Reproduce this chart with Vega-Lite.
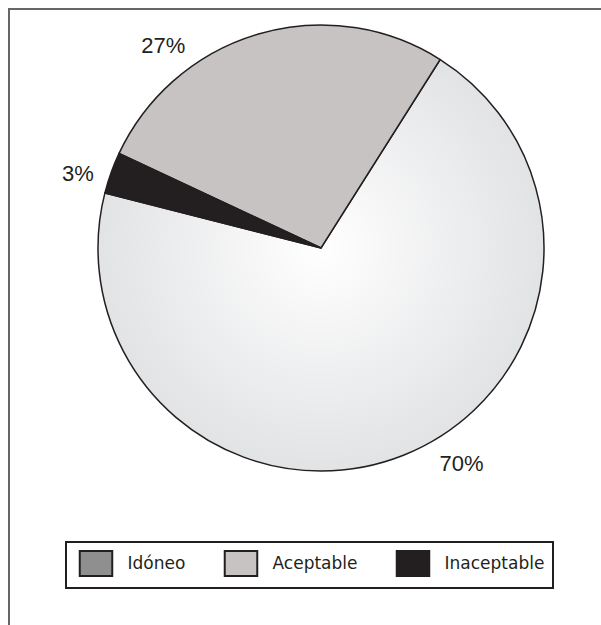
{
  "$schema": "https://vega.github.io/schema/vega-lite/v6.json",
  "width": 620,
  "height": 640,
  "autosize": {"type": "none"},
  "padding": {"left": 9, "top": 9, "right": -28, "bottom": -24},
  "background": "white",
  "config": {"legend": {"strokeWidth": 2}},
  "data": {"values": [
    {"cat": "Idóneo", "pct": 70, "label": "70%"},
    {"cat": "Aceptable", "pct": 27, "label": "27%"},
    {"cat": "Inaceptable", "pct": 3, "label": "3%"}
  ]},
  "transform": [
    {"stack": "pct", "groupby": [], "sort": [{"field": "cat", "order": "ascending"}], "as": ["s0", "s1"]}
  ],
  "layer": [
    {
      "data": {"values": [{"frame": 1}]},
      "mark": {"type": "rect", "fill": "transparent", "stroke": "#666666", "strokeWidth": 2},
      "encoding": {"x": {"value": 0}, "x2": {"value": "width"}, "y": {"value": 0}, "y2": {"value": "height"}}
    },
    {
      "mark": {"type": "arc", "outerRadius": 223, "xOffset": 2, "yOffset": -81, "stroke": "#231f20", "strokeWidth": 1.5},
      "encoding": {
        "theta": {"field": "s0", "type": "quantitative", "scale": {"domain": [0, 100], "range": [5.1505, 11.4337]}},
        "theta2": {"field": "s1"},
        "color": {
          "field": "cat", "type": "nominal",
          "condition": {"test": "datum.cat === 'Idóneo'", "value": {"gradient": "radial", "x1": 0.5, "y1": 0.46, "r1": 0, "x2": 0.5, "y2": 0.46, "r2": 0.5, "stops": [{"offset": 0, "color": "#ffffff"}, {"offset": 1, "color": "#e2e3e5"}]}},
          "scale": {"domain": ["Idóneo", "Aceptable", "Inaceptable"], "range": ["#8f8f8f", "#c8c3c3", "#231f20"]},
          "legend": {
            "title": null,
            "orient": "none",
            "legendX": 57,
            "legendY": 533,
            "direction": "horizontal",
            "padding": 8,
            "strokeColor": "#231f20",
            "fillColor": "#ffffff",
            "symbolType": "M-1.3,-1H1.3V1H-1.3Z",
            "symbolSize": 625,
            "symbolStrokeColor": "#231f20",
            "symbolStrokeWidth": 2,
            "symbolOffset": 8.5,
            "labelOffset": 18,
            "labelFont": "DejaVu Sans",
            "labelFontSize": 17,
            "labelColor": "#231f20",
            "labelLimit": 300,
            "columnPadding": 33,
            "labelExpr": "datum.value === 'Inaceptable' ? datum.label + '\u00a0\u00a0\u00a0\u00a0\u00a0\u00a0\u00a0\u00a0\u00a0\u00a0' : datum.label"
          }
        }
      }
    },
    {
      "transform": [{"filter": "datum.cat === 'Aceptable'"}],
      "mark": {"type": "text", "radius": 256, "thetaOffset": 0.469, "xOffset": 2, "yOffset": -81, "font": "Liberation Sans", "fontSize": 22, "fill": "#231f20", "align": "center", "baseline": "middle"},
      "encoding": {"theta": {"field": "s0", "type": "quantitative"}, "text": {"field": "label"}}
    },
    {
      "transform": [{"filter": "datum.cat === 'Idóneo'"}],
      "mark": {"type": "text", "radius": 258, "thetaOffset": 2.002, "xOffset": 2, "yOffset": -81, "font": "Liberation Sans", "fontSize": 22, "fill": "#231f20", "align": "center", "baseline": "middle"},
      "encoding": {"theta": {"field": "s0", "type": "quantitative"}, "text": {"field": "label"}}
    },
    {
      "transform": [{"filter": "datum.cat === 'Inaceptable'"}],
      "mark": {"type": "text", "radius": 254, "thetaOffset": 0.044, "xOffset": 2, "yOffset": -81, "font": "Liberation Sans", "fontSize": 22, "fill": "#231f20", "align": "center", "baseline": "middle"},
      "encoding": {"theta": {"field": "s0", "type": "quantitative"}, "text": {"field": "label"}}
    }
  ]
}
